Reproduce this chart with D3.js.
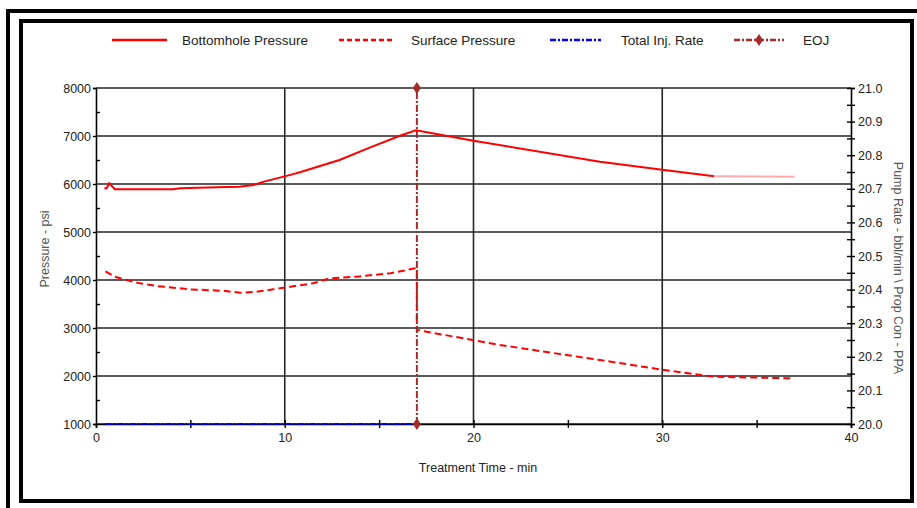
<!DOCTYPE html>
<html>
<head>
<meta charset="utf-8">
<script src="https://cdn.jsdelivr.net/npm/d3@7"></script>
<style>
  html, body { margin: 0; padding: 0; background: #fff; }
  svg { display: block; }
  text { font-family: "Liberation Sans", Arial, sans-serif; }
</style>
</head>
<body>
<svg id="chart" width="917" height="508"></svg>
<script>
// Treatment time axis (min) and pressure readings (psi)
const bhTime = [0.45, 0.57, 0.7, 1.0, 4.1, 4.45, 6.4, 7.6, 8.35, 8.9, 10.3, 10.8, 12.9, 14.5, 16.1, 16.95, 20.0, 26.7, 30.1, 32.75];
const bhVal  = [5900, 5917, 6015, 5890, 5890, 5910, 5930, 5945, 5980, 6050, 6190, 6244, 6500, 6757, 7006, 7120, 6900, 6465, 6290, 6160];
// trailing flat section of bottomhole pressure (drawn faded)
const bhTailTime = [32.75, 37.0];
const bhTailVal  = [6160, 6150];

const sfTime = [0.5, 1.0, 1.45, 2.33, 3.2, 5.0, 6.75, 7.64, 8.5, 9.4, 10.3, 11.5, 12.4, 13.8, 15.6, 16.9, 17.0, 17.0, 21.4, 26.7, 30.1, 32.75, 37.0];
const sfVal  = [4180, 4070, 4015, 3930, 3875, 3805, 3775, 3735, 3755, 3805, 3860, 3931, 4035, 4070, 4140, 4243, 4243, 2960, 2646, 2333, 2125, 1985, 1950];

// pump rate (bbl/min, right axis)
const rateTime = [0.5, 16.8];
const rateVal  = [20.0, 20.0];

// end of job marker
const eojTime = 17.0;
const eojRange = [20.0, 21.0];

const xTicks = [0, 10, 20, 30, 40];
const leftTicks = [1000, 2000, 3000, 4000, 5000, 6000, 7000, 8000];
const rightTicks = [20.0, 20.1, 20.2, 20.3, 20.4, 20.5, 20.6, 20.7, 20.8, 20.9, 21.0];

const legendLabels = ["Bottomhole Pressure", "Surface Pressure", "Total Inj. Rate", "EOJ"];

const svg = d3.select("#chart");
const plot = { left: 96, right: 851, top: 88, bottom: 424 };

const x = d3.scaleLinear().domain([0, 40]).range([plot.left, plot.right]);
const yL = d3.scaleLinear().domain([1000, 8000]).range([plot.bottom, plot.top]);
const yR = d3.scaleLinear().domain([20.0, 21.0]).range([plot.bottom, plot.top]);

const RED = "#ff0000", BLUE = "#0000ff", EOJC = "#a52a2a";
const GRID = "#262626";

// page frame: double border
svg.append("rect").attr("x", 0).attr("y", 0).attr("width", 917).attr("height", 508).attr("fill", "#fff");
svg.append("path")
  .attr("d", "M8,510 L8,11 L919,11")
  .attr("fill", "none").attr("stroke", "#000").attr("stroke-width", 4);
svg.append("rect")
  .attr("x", 21).attr("y", 21).attr("width", 891).attr("height", 480)
  .attr("fill", "none").attr("stroke", "#000").attr("stroke-width", 4);

// grid
const grid = svg.append("g");
grid.selectAll("line.h").data(leftTicks).join("line")
  .attr("x1", plot.left).attr("x2", plot.right)
  .attr("y1", d => yL(d)).attr("y2", d => yL(d))
  .attr("stroke", GRID).attr("stroke-width", 1.6);
grid.selectAll("line.v").data([10, 20, 30]).join("line")
  .attr("x1", d => x(d)).attr("x2", d => x(d))
  .attr("y1", plot.top).attr("y2", plot.bottom)
  .attr("stroke", GRID).attr("stroke-width", 1.6);

// left axis
const gL = svg.append("g").attr("transform", `translate(${plot.left},0)`)
  .call(d3.axisLeft(yL).tickValues(leftTicks).tickSize(3).tickPadding(2).tickFormat(d3.format("d")));
svg.append("g").attr("transform", `translate(${plot.left},0)`)
  .call(d3.axisRight(yL).tickValues(d3.range(1500, 8000, 1000)).tickSize(4).tickFormat(""))
  .select(".domain").remove();

// bottom axis
const gB = svg.append("g").attr("transform", `translate(0,${plot.bottom})`)
  .call(d3.axisBottom(x).tickValues(xTicks).tickSize(4).tickPadding(5).tickFormat(d3.format("d")));
svg.append("g").attr("transform", `translate(0,${plot.bottom})`)
  .call(d3.axisTop(x).tickValues(d3.range(5, 40, 5)).tickSize(4).tickFormat(""))
  .select(".domain").remove();
svg.append("g").attr("transform", `translate(0,${plot.bottom})`)
  .call(d3.axisBottom(x).tickValues([5, 15, 25, 35]).tickSize(4).tickFormat(""))
  .select(".domain").remove();

// right axis
const gR = svg.append("g").attr("transform", `translate(${plot.right},0)`)
  .call(d3.axisRight(yR).tickValues(rightTicks).tickSize(4).tickPadding(3).tickFormat(d3.format(".1f")));
svg.append("g").attr("transform", `translate(${plot.right},0)`)
  .call(d3.axisLeft(yR).tickValues(d3.range(0, 21).map(i => 20 + i * 0.05)).tickSize(4).tickFormat(""))
  .select(".domain").remove();
svg.append("g").attr("transform", `translate(${plot.right},0)`)
  .call(d3.axisRight(yR).tickValues(d3.range(0, 10).map(i => 20.05 + i * 0.1)).tickSize(4).tickFormat(""))
  .select(".domain").remove();

svg.selectAll(".domain").attr("stroke", "#000").attr("stroke-width", 1.6);
svg.selectAll(".tick line").attr("stroke", "#000").attr("stroke-width", 1.4);
svg.selectAll(".tick text").attr("font-size", 12.5).attr("fill", "#222")
  .attr("font-family", "'Liberation Sans', Arial, sans-serif");

// axis titles
svg.append("text")
  .attr("transform", `translate(49,249) rotate(-90)`)
  .attr("text-anchor", "middle").attr("font-size", 12.5).attr("fill", "#555")
  .text("Pressure - psi");
svg.append("text")
  .attr("x", 478).attr("y", 472)
  .attr("text-anchor", "middle").attr("font-size", 12.5).attr("fill", "#222")
  .text("Treatment Time - min");
svg.append("text")
  .attr("transform", `translate(894,268) rotate(90)`)
  .attr("text-anchor", "middle").attr("font-size", 12.5).attr("fill", "#555")
  .text("Pump Rate - bbl/min \\ Prop Con - PPA");

// series
const lineL = d3.line().x(d => x(d[0])).y(d => yL(d[1]));
const lineR = d3.line().x(d => x(d[0])).y(d => yR(d[1]));

svg.append("path").datum(d3.zip(rateTime, rateVal))
  .attr("d", lineR).attr("fill", "none").attr("stroke", BLUE)
  .attr("stroke-width", 2).attr("stroke-dasharray", "6,2,2,2");

svg.append("path").datum(d3.zip(sfTime, sfVal))
  .attr("d", lineL).attr("fill", "none").attr("stroke", RED)
  .attr("stroke-width", 2).attr("stroke-dasharray", "7,4");

svg.append("path").datum(d3.zip(bhTime, bhVal))
  .attr("d", lineL).attr("fill", "none").attr("stroke", RED)
  .attr("stroke-width", 2);
svg.append("path").datum(d3.zip(bhTailTime, bhTailVal))
  .attr("d", lineL).attr("fill", "none").attr("stroke", "#ffaaaa")
  .attr("stroke-width", 2);

// EOJ marker line
svg.append("line")
  .attr("x1", x(eojTime)).attr("x2", x(eojTime))
  .attr("y1", yR(eojRange[0])).attr("y2", yR(eojRange[1]))
  .attr("stroke", EOJC).attr("stroke-width", 2).attr("stroke-dasharray", "7,2,2,2");
const diamond = "M0,-6 L4,0 L0,6 L-4,0 Z";
svg.selectAll("path.eojm").data(eojRange).join("path")
  .attr("class", "eojm")
  .attr("transform", d => `translate(${x(eojTime)},${yR(d)})`)
  .attr("d", diamond).attr("fill", EOJC);

// legend
const lg = svg.append("g");
const legendItems = [
  { label: legendLabels[0], x1: 112, x2: 167, tx: 182, color: RED, dash: null, marker: false },
  { label: legendLabels[1], x1: 339, x2: 393, tx: 411, color: RED, dash: "5,3", marker: false },
  { label: legendLabels[2], x1: 550, x2: 601, tx: 621, color: BLUE, dash: "6,2,2,2", marker: false },
  { label: legendLabels[3], x1: 734, x2: 784, tx: 803, color: EOJC, dash: "6,2,2,2", marker: true }
];
legendItems.forEach(it => {
  lg.append("line").attr("x1", it.x1).attr("x2", it.x2).attr("y1", 40).attr("y2", 40)
    .attr("stroke", it.color).attr("stroke-width", 2.5)
    .attr("stroke-dasharray", it.dash);
  if (it.marker) {
    lg.append("path").attr("transform", `translate(${(it.x1 + it.x2) / 2},40)`)
      .attr("d", diamond).attr("fill", it.color);
  }
  lg.append("text").attr("x", it.tx).attr("y", 45)
    .attr("font-size", 13.5).attr("fill", "#222").text(it.label);
});
</script>
</body>
</html>
